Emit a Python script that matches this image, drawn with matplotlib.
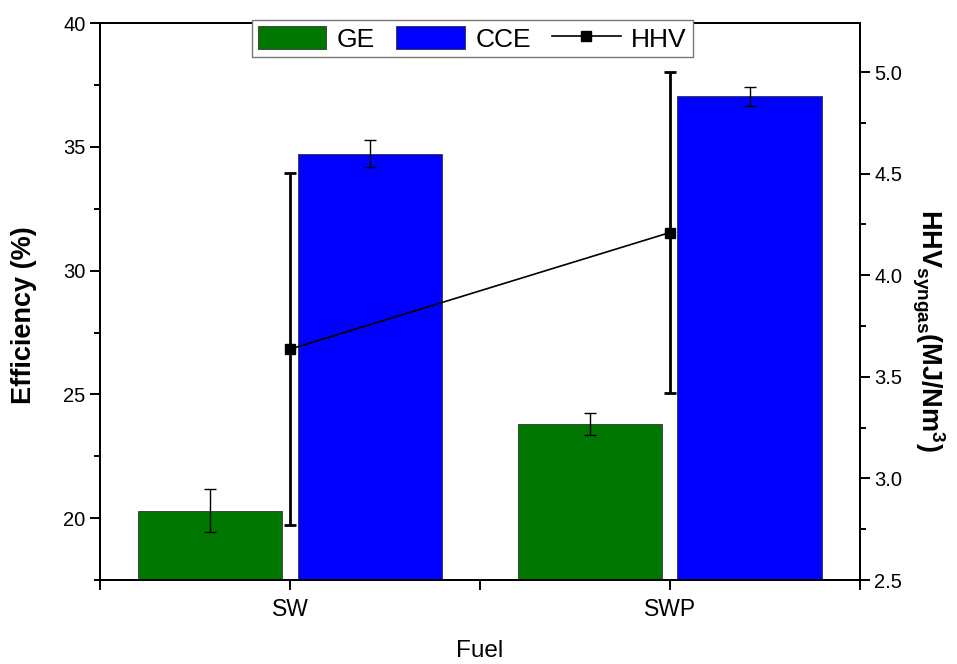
import numpy as np
import matplotlib.pyplot as plt
from matplotlib.ticker import MultipleLocator
from matplotlib.lines import Line2D
from matplotlib.patches import Patch

plt.rcParams['font.family'] = ['Liberation Sans', 'DejaVu Sans']
plt.rcParams['mathtext.fontset'] = 'custom'
plt.rcParams['mathtext.rm'] = 'Liberation Sans'
plt.rcParams['mathtext.bf'] = 'Liberation Sans:bold'

fuels = ['SW', 'SWP']
ge = [20.3, 23.8]
ge_err = [0.87, 0.43]
cce = [34.73, 37.05]
cce_err = [0.54, 0.38]
hhv = [3.636, 4.21]
hhv_err = [0.866, 0.79]

x = np.arange(1, len(fuels) + 1)
w = 0.38
off = 0.21

fig = plt.figure(figsize=(9.57, 6.64), dpi=100)
ax = fig.add_axes([0.1045, 0.1265, 0.794, 0.8385])
ax2 = ax.twinx()

ax.bar(x - off, ge, w, yerr=ge_err, color='#007700', edgecolor='#333333', linewidth=0.6,
       error_kw=dict(ecolor='black', elinewidth=1, capsize=4.3, capthick=1))
ax.bar(x + off, cce, w, yerr=cce_err, color='#0000FF', edgecolor='#333333', linewidth=0.6,
       error_kw=dict(ecolor='black', elinewidth=1, capsize=4.3, capthick=1))

ax2.errorbar(x, hhv, yerr=hhv_err, color='black', linewidth=1.2, marker='s', markersize=7,
             elinewidth=2, capsize=4.5, capthick=2)

ax.set_xlim(0.5, 2.5)
ax.set_ylim(17.5, 40)
ax2.set_ylim(2.5, 5.24)

ax.set_xticks(x)
ax.set_xticklabels(fuels)
ax.xaxis.set_minor_locator(MultipleLocator(0.5))
ax.yaxis.set_major_locator(MultipleLocator(5))
ax.yaxis.set_minor_locator(MultipleLocator(2.5))
ax2.set_yticks(np.arange(2.5, 5.01, 0.5))
ax2.yaxis.set_minor_locator(MultipleLocator(0.25))
ax2.yaxis.set_major_formatter(plt.FormatStrFormatter('%.1f'))

for a in (ax, ax2):
    for s in a.spines.values():
        s.set_linewidth(1.4)
ax.tick_params(which='major', direction='out', length=7, width=1.4, labelsize=14.5)
ax.tick_params(which='minor', direction='out', length=4.5, width=1.4)
ax.tick_params(axis='x', which='major', labelsize=16.5, pad=6)
ax.tick_params(axis='x', which='minor', length=7)
ax2.tick_params(which='major', direction='out', length=7, width=1.4, labelsize=14.5)
ax2.tick_params(which='minor', direction='out', length=4.5, width=1.4)

ax.set_xlabel('Fuel', fontsize=17.5, va='top')
ax.xaxis.set_label_coords(0.5, -0.108)
ax.set_ylabel('Efficiency (%)', fontsize=19.5, fontweight='bold')
ax.yaxis.set_label_coords(-0.083, 0.476)
ax2.set_ylabel(r'HHV$_{\mathbf{syngas}}$(MJ/Nm$^{\mathbf{3}}$)', fontsize=19.5,
               fontweight='bold', rotation=270, va='bottom')
ax2.yaxis.set_label_coords(1.066, 0.449)

handles = [Patch(facecolor='#007700', edgecolor='#333333', linewidth=0.6),
           Patch(facecolor='#0000FF', edgecolor='#333333', linewidth=0.6),
           Line2D([], [], color='black', linewidth=1.2, marker='s', markersize=7)]
leg = ax2.legend(handles, ['GE', 'CCE', 'HHV'], loc='upper center', bbox_to_anchor=(0.49, 1.006),
                 ncol=3, fontsize=19, frameon=True, fancybox=False, edgecolor='#777777',
                 framealpha=1, handlelength=2.6, handleheight=1.0, handletextpad=0.4,
                 columnspacing=0.8, borderpad=0.22, borderaxespad=0)
leg.get_frame().set_linewidth(1.0)

plt.savefig('out.png', dpi=100)
